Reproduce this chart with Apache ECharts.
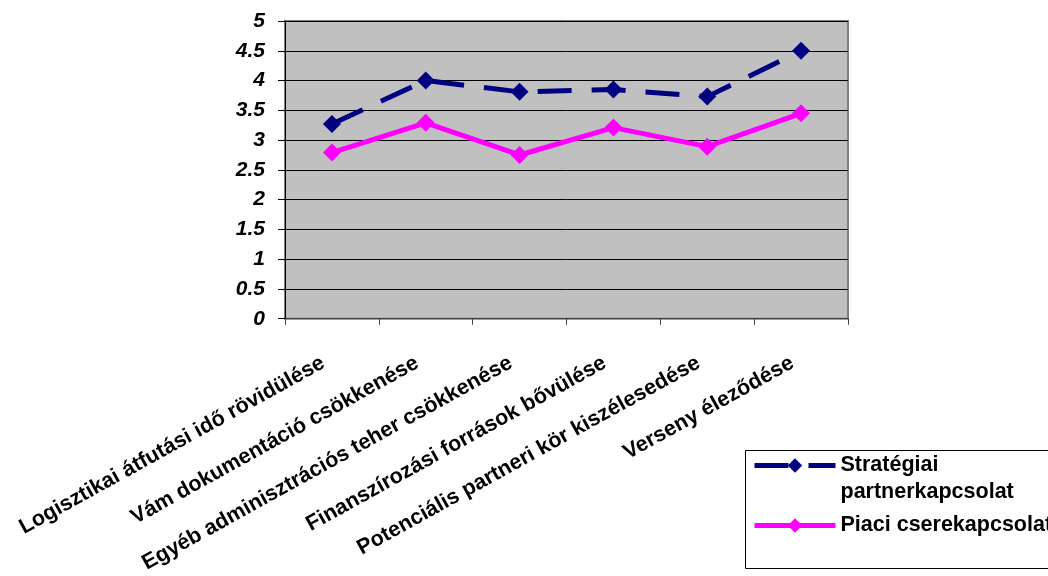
<!DOCTYPE html>
<html>
<head>
<meta charset="utf-8">
<script src="https://cdn.jsdelivr.net/npm/echarts@6/dist/echarts.min.js"></script>
<style>
  html, body { margin: 0; padding: 0; background: #ffffff; }
  #chart { width: 1048px; height: 576px; }
</style>
</head>
<body>
<div id="chart"></div>
<script>
// Categories (x axis)
const categories = [
  'Logisztikai átfutási idő rövidülése',
  'Vám dokumentáció csökkenése',
  'Egyéb adminisztrációs teher csökkenése',
  'Finanszírozási források bővülése',
  'Potenciális partneri kör kiszélesedése',
  'Verseny éleződése'
];

// Series names
const strategicName = 'Stratégiai partnerkapcsolat';
const marketName = 'Piaci cserekapcsolat';

// Series values
const strategicValues = [3.27, 4.0, 3.81, 3.85, 3.73, 4.5];
const marketValues = [2.79, 3.29, 2.75, 3.21, 2.89, 3.45];

// Value axis range
const yMin = 0;
const yMax = 5;
const yStep = 0.5;

const FONT = '"Liberation Sans", Arial, sans-serif';
const NAVY = '#000080';
const MAGENTA = '#FF00FF';

const legendText = {
  fontFamily: FONT,
  fontWeight: 'bold',
  fontSize: 21.5,
  color: '#000',
  lineHeight: 27
};

const chart = echarts.init(document.getElementById('chart'), null, { renderer: 'canvas' });

chart.setOption({
  animation: false,
  backgroundColor: '#ffffff',
  grid: {
    left: 285,
    top: 21,
    right: 200,
    bottom: 257,
    show: true,
    backgroundColor: '#C0C0C0',
    borderColor: '#808080',
    borderWidth: 2
  },
  legend: [
    {
      data: [strategicName],
      orient: 'vertical',
      left: 752,
      top: 425,
      padding: 0,
      itemWidth: 81,
      itemHeight: 18,
      // blank first line keeps the marker level with the first text line
      formatter: () => ' \nStratégiai\npartnerkapcsolat',
      lineStyle: { width: 5 },
      textStyle: legendText
    },
    {
      data: [marketName],
      orient: 'vertical',
      left: 752,
      top: 512,
      padding: 0,
      itemWidth: 81,
      itemHeight: 18,
      lineStyle: { width: 5 },
      textStyle: legendText
    }
  ],
  graphic: [
    {
      type: 'rect',
      shape: { x: 745.5, y: 450.5, width: 320, height: 118 },
      style: { fill: 'none', stroke: '#000', lineWidth: 1 },
      silent: true
    }
  ],
  xAxis: {
    type: 'category',
    data: categories,
    boundaryGap: true,
    axisLine: { show: true, lineStyle: { color: '#404040', width: 1 } },
    axisTick: { show: true, length: 6, lineStyle: { color: '#404040' } },
    splitLine: { show: false },
    axisLabel: {
      interval: 0,
      rotate: 29,
      margin: 38,
      padding: [0, 10, 0, 0],
      fontFamily: FONT,
      fontWeight: 'bold',
      fontSize: 21.5,
      color: '#000'
    }
  },
  yAxis: {
    type: 'value',
    min: yMin,
    max: yMax,
    interval: yStep,
    axisLine: { show: true, lineStyle: { color: '#000', width: 1 } },
    axisTick: { show: true, length: 7, lineStyle: { color: '#000' } },
    splitLine: { show: true, lineStyle: { color: '#000', width: 1 } },
    axisLabel: {
      margin: 20,
      fontFamily: FONT,
      fontWeight: 'bold',
      fontStyle: 'italic',
      fontSize: 21,
      color: '#000'
    }
  },
  series: [
    {
      name: strategicName,
      type: 'line',
      data: strategicValues,
      symbol: 'diamond',
      symbolSize: 18,
      color: NAVY,
      itemStyle: { color: NAVY },
      lineStyle: { color: NAVY, width: 5, type: [34, 20] },
      emphasis: { disabled: true }
    },
    {
      name: marketName,
      type: 'line',
      data: marketValues,
      symbol: 'diamond',
      symbolSize: 18,
      color: MAGENTA,
      itemStyle: { color: MAGENTA },
      lineStyle: { color: MAGENTA, width: 5, type: 'solid' },
      emphasis: { disabled: true }
    }
  ]
});
</script>
</body>
</html>
